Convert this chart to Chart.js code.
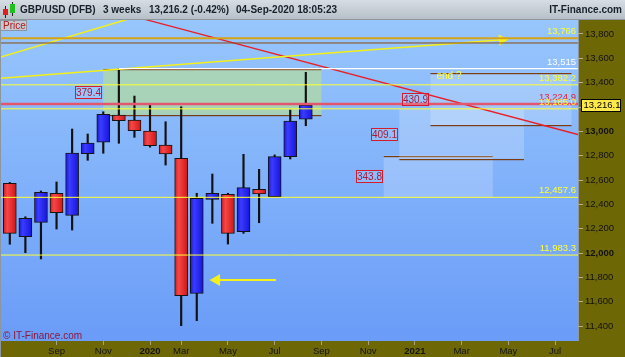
<!DOCTYPE html>
<html>
<head>
<meta charset="utf-8">
<style>
html, body { margin: 0; padding: 0; background: #6d6706; }
#wrap { width: 625px; height: 357px; }
</style>
<script src="https://cdn.jsdelivr.net/npm/chart.js@4.4.1/dist/chart.umd.min.js"></script>
</head>
<body>
<div id="wrap"><canvas id="chart" width="625" height="357"></canvas></div>
<script>
// GBP/USD, 3-week candles (price x 10000)
var opens  = [12573, 12134, 12252, 12491, 12310, 12816, 12910, 13134, 13093, 13003, 12888, 12778, 11669, 12441, 12482, 12175, 12524, 12463, 12792, 13099];
var highs  = [12580, 12298, 12510, 12584, 13019, 12978, 13161, 13515, 13290, 13216, 13079, 13202, 12491, 12649, 12491, 12811, 12688, 12806, 13175, 13485];
var lows   = [12072, 12003, 11951, 12197, 12189, 12762, 12820, 12902, 12951, 12870, 12723, 11403, 11444, 12244, 12074, 12162, 12249, 12463, 12773, 13046];
var closes = [12162, 12285, 12499, 12331, 12822, 12904, 13140, 13087, 13005, 12882, 12814, 11649, 12450, 12491, 12162, 12537, 12485, 12792, 13085, 13216.1];

// x axis: labels sit on bar positions
var monthLabels = ['Sep', 'Nov', '2020', 'Mar', 'May', 'Jul', 'Sep', 'Nov', '2021', 'Mar', 'May', 'Jul'];
var monthBars   = [3, 6, 9, 11, 14, 17, 20, 23, 26, 29, 32, 35];
var yTicks = [11400, 11600, 11800, 12000, 12200, 12400, 12600, 12800, 13000, 13200, 13400, 13600, 13800];

// horizontal levels
var levelValues = [13766, 13726, 13515, 13382.2, 13224.9, 13185.0, 12457.6, 11983.3];
var levelFrom   = [null, null, 7, null, null, null, null, null];
var levelLabels = ['13,766', '', '13,515', '13,382.2', '13,224.9', '13,185.0', '12,457.6', '11,983.3'];

// measured-move boxes
var zoneTop    = [13515, 12801.4, 13185.0, 13482.2];
var zoneBottom = [13135.6, 12457.6, 12775.9, 13051.3];
var zoneFrom   = [6, 24, 25, 27];
var zoneTo     = [20, 31, 33, 36.05];
var zoneLabels = ['379.4', '343.8', '409.1', '430.9'];
var zoneNotes  = ['', '', '', 'end ?'];

// trend lines
var trendA = [{x: -0.63, y: 13608}, {x: 7.82, y: 13931}];
var trendB = [{x: -0.63, y: 13436}, {x: 31.6, y: 13752}];
var trendC = [{x: 8.36, y: 13931}, {x: 36.47, y: 12974}];
var arrowLow = [{x: 13.27, y: 11778}, {x: 17.09, y: 11778}];

var title = 'GBP/USD (DFB)', period = '3 weeks', quote = '13,216.2 (-0.42%)', stamp = '04-Sep-2020 18:05:23';
var lastPrice = 13216.1;

var xMin = -0.565, xMax = 36.47, yMin = 11277, yMax = 13915;
var FONT = "'Liberation Sans', Arial, sans-serif";
Chart.defaults.font.family = FONT;

var levelColors = ['#d6a21a', '#8a4a12', '#ffffff', '#ffff33', '#e2566e', '#ffff33', '#ffff33', '#ffff33'];
var levelWidths = [2, 1, 1.2, 1, 2.5, 1, 1, 1];
var labelColors = ['#ffff33', '', '#ffffff', '#ffff33', '#e8203a', '#ffff33', '#ffff33', '#ffff33'];

// body fill: light on the left, darker on the right
function bodyColor(c) {
    var up = closes[c.dataIndex] >= opens[c.dataIndex];
    var xs = c.chart.scales.x;
    var px = xs ? xs.getPixelForValue(c.dataIndex) : NaN;
    if (!isFinite(px)) return up ? '#1e1ef2' : '#e8221e';
    var g = c.chart.ctx.createLinearGradient(px - 6.5, 0, px + 6.5, 0);
    if (up) {
        g.addColorStop(0, '#1818d8');
        g.addColorStop(0.3, '#3c3cff');
        g.addColorStop(1, '#1414dc');
    } else {
        g.addColorStop(0, '#d81818');
        g.addColorStop(0.3, '#f44848');
        g.addColorStop(1, '#d41414');
    }
    return g;
}

var datasets = [];
levelValues.forEach(function (v, i) {
    datasets.push({
        type: 'line', order: 0,
        data: [{x: levelFrom[i] === null ? xMin : levelFrom[i], y: v}, {x: xMax, y: v}],
        borderColor: levelColors[i], borderWidth: levelWidths[i], pointRadius: 0
    });
});
datasets.push({ type: 'line', order: 0, data: trendA, borderColor: '#f4f018', borderWidth: 1.5, pointRadius: 0 });
datasets.push({ type: 'line', order: 0, data: trendB, borderColor: '#f4f018', borderWidth: 1.5,
    pointRadius: [0, 5], pointStyle: 'triangle', rotation: 86, pointBackgroundColor: '#f4f018', pointBorderColor: '#f4f018' });
datasets.push({ type: 'line', order: 0, data: trendC, borderColor: '#e82028', borderWidth: 1.3, pointRadius: 0 });
datasets.push({ type: 'line', order: 0, data: arrowLow, borderColor: '#f4f018', borderWidth: 2,
    pointRadius: [5, 0], pointStyle: 'triangle', rotation: 270, pointBackgroundColor: '#f4f018', pointBorderColor: '#f4f018' });

// candle bodies and wicks
datasets.push({
    type: 'bar', order: 1, grouped: false,
    data: opens.map(function (o, i) { return {x: i, y: [o, closes[i]]}; }),
    backgroundColor: bodyColor,
    borderColor: '#141414', borderWidth: 1, borderSkipped: false, barThickness: 13
});
datasets.push({
    type: 'bar', order: 2, grouped: false,
    data: lows.map(function (l, i) { return {x: i, y: [l, highs[i]]}; }),
    backgroundColor: '#111111', borderWidth: 0, barThickness: 1.5
});

var painter = {
    id: 'painter',
    beforeDraw: function (chart) {
        var ctx = chart.ctx, a = chart.chartArea;
        ctx.save();
        ctx.fillStyle = '#6d6706';
        ctx.fillRect(0, 0, chart.width, chart.height);
        var g = ctx.createLinearGradient(0, a.top, 0, a.bottom);
        g.addColorStop(0, '#97c6fc');
        g.addColorStop(1, '#6a9cf8');
        ctx.fillStyle = g;
        ctx.fillRect(a.left, a.top, a.right - a.left, a.bottom - a.top);
        ctx.fillStyle = '#8c96a0';
        ctx.fillRect(0, a.top, 1, chart.height - a.top);
        ctx.fillRect(a.right, a.top, 1, a.bottom - a.top);
        // header
        var h = ctx.createLinearGradient(0, 0, 0, 19);
        h.addColorStop(0, '#d6dde4');
        h.addColorStop(1, '#b7bfc8');
        ctx.fillStyle = h;
        ctx.fillRect(0, 0, chart.width, 19);
        ctx.fillStyle = '#8d969f';
        ctx.fillRect(0, 19, chart.width, 1);
        // little candle icon
        ctx.fillStyle = '#222';
        ctx.fillRect(5, 6, 1, 12);
        ctx.fillRect(12, 2, 1, 14);
        ctx.fillStyle = '#e02020';
        ctx.fillRect(3, 9, 5, 6);
        ctx.fillStyle = '#20c020';
        ctx.fillRect(10, 4, 5, 9);
        ctx.fillStyle = '#17202a';
        ctx.font = 'bold 10px ' + FONT;
        ctx.textBaseline = 'middle';
        ctx.textAlign = 'left';
        ctx.fillText(title, 20, 10);
        ctx.fillText(period, 103, 10);
        ctx.fillText(quote, 149, 10);
        ctx.fillText(stamp, 236, 10);
        ctx.textAlign = 'right';
        ctx.fillText('IT-Finance.com', 622, 10);
        ctx.restore();
    },
    beforeDatasetsDraw: function (chart) {
        var ctx = chart.ctx, xs = chart.scales.x, ys = chart.scales.y, a = chart.chartArea;
        ctx.save();
        ctx.beginPath();
        ctx.rect(a.left, a.top, a.right - a.left, a.bottom - a.top);
        ctx.clip();
        zoneTop.forEach(function (t, i) {
            var x1 = xs.getPixelForValue(zoneFrom[i]), x2 = xs.getPixelForValue(zoneTo[i]);
            var y1 = ys.getPixelForValue(t), y2 = ys.getPixelForValue(zoneBottom[i]);
            ctx.fillStyle = i === 0 ? 'rgba(179,221,157,0.7)' : 'rgba(255,255,255,0.2)';
            ctx.fillRect(x1, y1, x2 - x1, y2 - y1);
            ctx.fillStyle = '#7a3c10';
            if (i === 0 || i === 1 || i === 3) ctx.fillRect(x1, Math.round(y1), x2 - x1, 1.2);
            if (i === 0 || i === 2 || i === 3) ctx.fillRect(x1, Math.round(y2), x2 - x1, 1.2);
        });
        ctx.restore();
    },
    afterDatasetsDraw: function (chart) {
        var ctx = chart.ctx, xs = chart.scales.x, ys = chart.scales.y, a = chart.chartArea;
        ctx.save();
        ctx.font = '9.5px ' + FONT;
        ctx.textAlign = 'right';
        ctx.textBaseline = 'bottom';
        levelValues.forEach(function (v, i) {
            if (!levelLabels[i]) return;
            ctx.fillStyle = labelColors[i];
            ctx.fillText(levelLabels[i], a.right - 2, ys.getPixelForValue(v) - 2);
        });
        // boxed size labels
        ctx.font = '10px ' + FONT;
        ctx.textAlign = 'center';
        ctx.textBaseline = 'middle';
        zoneTop.forEach(function (t, i) {
            var x1 = xs.getPixelForValue(zoneFrom[i]);
            var ym = ys.getPixelForValue((t + zoneBottom[i]) / 2);
            var bx = Math.round(x1 - 28) + 0.5, by = Math.round(ym - 6) + 0.5;
            ctx.fillStyle = 'rgba(255,255,255,0.12)';
            ctx.fillRect(bx, by, 26, 12);
            ctx.strokeStyle = '#d21c30';
            ctx.lineWidth = 1;
            ctx.strokeRect(bx, by, 26, 12);
            ctx.fillStyle = '#a81a34';
            ctx.fillText(zoneLabels[i], bx + 13, by + 6.5);
            if (zoneNotes[i]) {
                ctx.fillStyle = '#ffff40';
                ctx.textAlign = 'left';
                ctx.textBaseline = 'top';
                ctx.fillText(zoneNotes[i], xs.getPixelForValue(zoneFrom[i]) + 6, ys.getPixelForValue(t) - 1);
                ctx.textAlign = 'center';
                ctx.textBaseline = 'middle';
            }
        });
        ctx.restore();
    },
    afterDraw: function (chart) {
        var ctx = chart.ctx, ys = chart.scales.y, a = chart.chartArea;
        ctx.save();
        // last price tag
        var py = Math.round(ys.getPixelForValue(lastPrice));
        ctx.fillStyle = '#ffe84a';
        ctx.fillRect(581, py - 6, 40, 13);
        ctx.strokeStyle = '#000';
        ctx.lineWidth = 1;
        ctx.strokeRect(581.5, py - 5.5, 39, 12);
        ctx.fillStyle = '#000';
        ctx.font = '9.5px ' + FONT;
        ctx.textAlign = 'left';
        ctx.textBaseline = 'middle';
        ctx.fillText(lastPrice.toLocaleString('en-US', {minimumFractionDigits: 1}), 583.5, py + 0.5);
        // "Price" tab
        ctx.fillStyle = '#c3cad2';
        ctx.fillRect(0, a.top, 27, 11);
        ctx.strokeStyle = '#8d969f';
        ctx.strokeRect(0.5, a.top + 0.5, 26, 10);
        ctx.fillStyle = '#b01818';
        ctx.font = '10px ' + FONT;
        ctx.fillText('Price', 3, a.top + 6);
        // copyright
        ctx.fillStyle = '#8c1838';
        ctx.fillText('\u00a9 IT-Finance.com', 3, a.bottom - 5);
        ctx.restore();
    }
};

new Chart(document.getElementById('chart'), {
    type: 'bar',
    data: { datasets: datasets },
    options: {
        responsive: false,
        animation: false,
        events: [],
        layout: { autoPadding: false, padding: { top: 20, left: 1, right: 0, bottom: 0 } },
        plugins: { legend: { display: false }, tooltip: { enabled: false } },
        scales: {
            x: {
                type: 'linear', min: xMin, max: xMax, offset: false, bounds: 'data',
                grid: { display: true, drawOnChartArea: false, offset: false, tickLength: 4, color: '#a9a37c' },
                border: { display: false },
                ticks: {
                    autoSkip: false, maxRotation: 0, padding: 1, color: '#141414',
                    font: function (c) { return { size: 9.5, weight: /^\d{4}$/.test(monthLabels[c.index] || '') ? 'bold' : 'normal' }; },
                    callback: function (v, i) { return monthLabels[i]; }
                },
                afterBuildTicks: function (s) { s.ticks = monthBars.map(function (b) { return {value: b}; }); },
                afterFit: function (s) { s.height = 16; s.paddingLeft = 0; s.paddingRight = 0; }
            },
            y: {
                type: 'linear', position: 'right', min: yMin, max: yMax, beginAtZero: false, bounds: 'data',
                grid: { display: true, drawOnChartArea: false, tickLength: 5, color: '#b4b08a' },
                border: { display: false },
                ticks: {
                    autoSkip: false, padding: 2, color: '#121212',
                    font: function (c) { return { size: 9.5, weight: c.tick && c.tick.value % 1000 === 0 ? 'bold' : 'normal' }; },
                    callback: function (v) { return v.toLocaleString('en-US'); }
                },
                afterBuildTicks: function (s) { s.ticks = yTicks.map(function (v) { return {value: v}; }); },
                afterFit: function (s) { s.width = 47; s.paddingTop = 0; s.paddingBottom = 0; }
            }
        }
    },
    plugins: [painter]
});
</script>
</body>
</html>
